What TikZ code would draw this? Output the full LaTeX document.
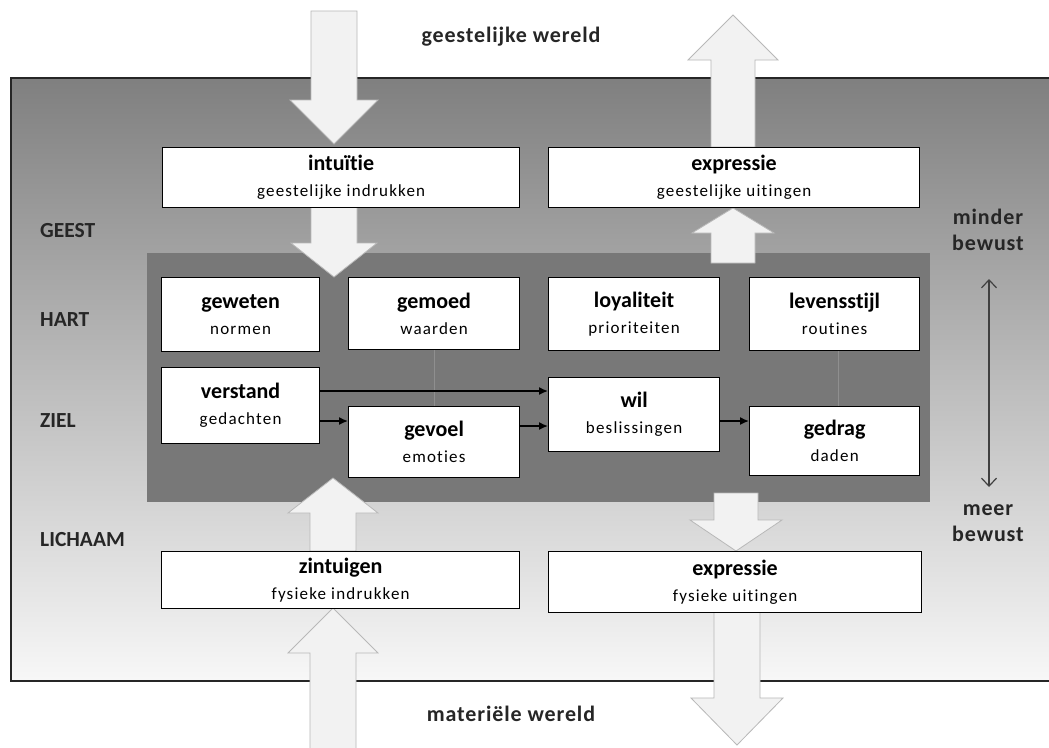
\documentclass[tikz,border=0pt]{standalone}
\usepackage{fontspec}
\setmainfont{Carlito}[Ligatures=NoCommon]
\newfontfamily\subfam{Carlito}[LetterSpace=7,Ligatures=NoCommon]
\newfontfamily\widefam{Carlito}[LetterSpace=4,Ligatures=NoCommon]
\usetikzlibrary{arrows.meta}
\newcommand\boxtitle{\fontsize{22}{26}\selectfont\bfseries}
\newcommand\boxsub{\subfam\fontsize{17}{26}\selectfont\mdseries}
\newcommand\blockarrow[6]{%
  \draw[blk] (#1-#5,#2) -- (#1-#5,#3) -- (#1-#6,#3) -- (#1,#4) -- (#1+#6,#3) -- (#1+#5,#3) -- (#1+#5,#2) -- cycle;}
\begin{document}
\begin{tikzpicture}[x=1pt,y=-1pt,
  box/.style={draw=black, line width=1.2pt, fill=white, inner sep=0pt, align=center, anchor=north west, font=\fontsize{17}{26}\selectfont},
  side/.style={font=\fontsize{21.5}{25}\selectfont\bfseries, text=black!85, anchor=west, inner sep=0pt},
  world/.style={font=\widefam\fontsize{22}{26}\selectfont\bfseries, text=black!85, inner sep=0pt},
  aware/.style={font=\widefam\fontsize{22}{26}\selectfont\bfseries, text=black!85, align=center, inner sep=0pt},
  blk/.style={fill=black!5, draw=black!28, line width=0.8pt, line join=miter},
  conn/.style={draw=black, line width=1.5pt, -{Latex[length=9pt,width=8pt]}},
  faint/.style={draw=black!44, line width=1pt},
  dbl/.style={draw=black!75, line width=1.2pt, {Straight Barb[length=8pt,width=15pt]}-{Straight Barb[length=8pt,width=15pt]}}]
\useasboundingbox (0,0) rectangle (1049,747);
\clip (0,0) rectangle (1049,747);
\fill[white] (0,0) rectangle (1049,747);
% outer gradient field
\shade[top color=black!50, bottom color=black!3] (11,78) rectangle (1062,681);
\draw[line width=1.3pt, draw=black!85] (1062,78) -- (11,78) -- (11,681) -- (1062,681);
% inner dark field
\fill[black!53] (147,253) rectangle (930,502);
% faint vertical lines
\draw[faint] (434,350) -- (434,406);
\draw[faint] (838,351) -- (838,406);
% block arrows (cx, start, head base, tip, half shaft, half head)
\blockarrow{334}{11}{100}{144}{23}{44}
\blockarrow{334}{207}{243}{277}{23}{43}
\blockarrow{333}{760}{653}{608}{23}{45}
\blockarrow{333}{551}{513}{478}{23}{45}
\blockarrow{733}{147}{60}{15}{22}{45}
\blockarrow{733}{263}{233}{208}{22}{41}
\blockarrow{736}{493}{520}{551}{22}{46}
\blockarrow{737}{611}{698}{745}{23}{46}
% boxes
\node[box, minimum width=357, minimum height=60] (intuitie) at (162,147) {\boxtitle intuït\kern0pt ie\\\boxsub geestelijke indrukken};
\node[box, minimum width=371, minimum height=60] (exprG) at (548,147) {\boxtitle expressie\\\boxsub geestelijke uitingen};
\node[box, minimum width=158, minimum height=74] (geweten) at (161,277) {\boxtitle geweten\\\boxsub normen};
\node[box, minimum width=171, minimum height=72] (gemoed) at (348,277) {\boxtitle gemoed\\\boxsub waarden};
\node[box, minimum width=171, minimum height=73] (loyaliteit) at (548,277) {\boxtitle loyaliteit\\\boxsub prioriteiten};
\node[box, minimum width=170, minimum height=73] (levensstijl) at (749,277) {\boxtitle levenss\kern0pt t\kern0pt ijl\\\boxsub routines};
\node[box, minimum width=158, minimum height=76] (verstand) at (161,367) {\boxtitle verstand\\\boxsub gedachten};
\node[box, minimum width=171, minimum height=71] (gevoel) at (348,406) {\boxtitle gevoel\\\boxsub emoties};
\node[box, minimum width=171, minimum height=74] (wil) at (548,377) {\boxtitle wil\\\boxsub beslissingen};
\node[box, minimum width=170, minimum height=69] (gedrag) at (749,406) {\boxtitle gedrag\\\boxsub daden};
\node[box, minimum width=358, minimum height=57] (zintuigen) at (161,551) {\boxtitle zintuigen\\\boxsub fysieke indrukken};
\node[box, minimum width=373, minimum height=61] (exprF) at (548,551) {\boxtitle expressie\\\boxsub fysieke uitingen};
% connectors
\coordinate (r1) at (0,391);
\coordinate (r2) at (0,421);
\coordinate (r3) at (0,426);
\coordinate (r4) at (0,421);
\draw[conn] (verstand.east |- r1) -- (wil.west |- r1);
\draw[conn] (verstand.east |- r2) -- (gevoel.west |- r2);
\draw[conn] (gevoel.east |- r3) -- (wil.west |- r3);
\draw[conn] (wil.east |- r4) -- (gedrag.west |- r4);
% side labels
\node[side] (geest) at (40,231) {GEEST};
\node[side] (hart) at (40,320) {HART};
\node[side] (ziel) at (40,421) {ZIEL};
\node[side] (lichaam) at (40,540) {LICHAAM};
% worlds
\node[world] (gw) at (511,37) {geestelijke wereld};
\node[world] (mw) at (511,714) {materiële wereld};
% awareness
\node[aware] (minder) at (988,230) {minder\\bewust};
\node[aware] (meer) at (988,523) {meer\\bewust};
\coordinate (da) at (989,279);
\coordinate (db) at (989,487);
\draw[dbl] (da) -- (db);
\end{tikzpicture}
\end{document}
